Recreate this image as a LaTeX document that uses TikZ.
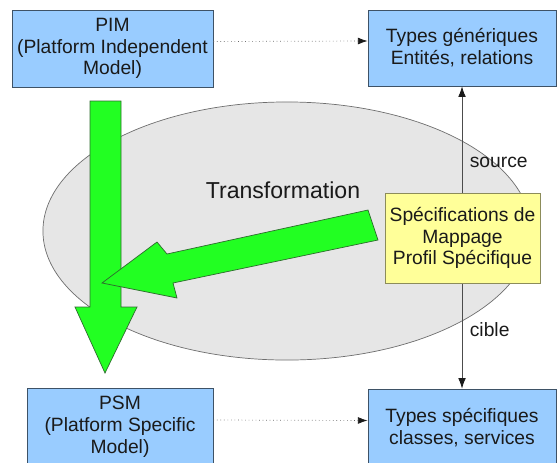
\documentclass[tikz,border=0pt]{standalone}
\usepackage{fontspec}
\setmainfont{Liberation Sans}
\usetikzlibrary{arrows.meta,positioning,shapes.geometric}
\definecolor{boxblue}{HTML}{99CCFF}
\definecolor{boxedge}{HTML}{3E5266}
\definecolor{paleyellow}{HTML}{FFFF99}
\definecolor{yellowedge}{HTML}{8C8C5A}
\definecolor{brightgreen}{HTML}{22FF22}
\definecolor{greenedge}{HTML}{2E6B2E}
\definecolor{cloud}{HTML}{E6E6E6}
\definecolor{cloudedge}{HTML}{6E6E6E}
\definecolor{ink}{HTML}{1A1A1A}
\tikzset{every node/.style={font=\fontsize{13.7}{15.5}\selectfont,text=ink},
 model/.style={draw=boxedge,fill=boxblue,line width=.6pt,align=center,inner sep=2pt},
 mapping/.style={draw=yellowedge,fill=paleyellow,line width=.6pt,align=center,inner sep=2pt,
  minimum width=3.875cm,minimum height=2.25cm},
 bigarrow/.style={draw=greenedge,fill=brightgreen,line width=.5pt,line join=miter},
 dotlink/.style={-{Latex[length=2.4mm,width=1.7mm,color=ink]},draw=gray!80!black,dotted,line width=.5pt},
 rolelink/.style={{Latex[length=2.6mm,width=1.9mm,color=ink]}-{Latex[length=2.6mm,width=1.9mm,color=ink]},draw=gray!60!black,line width=.5pt}}

\begin{document}
\begin{tikzpicture}[x=0.025cm,y=-0.025cm]

\useasboundingbox (0,0) rectangle (558,462);
\node[ellipse,draw=cloudedge,fill=cloud,line width=.5pt,minimum width=12.2cm,minimum height=6.45cm] (cloud) at (287,231) {};
\node[font=\fontsize{16.4}{18}\selectfont] (transf) at (283,190) {Transformation};
\node[model,minimum width=5.025cm,minimum height=1.925cm] (PIM) at (112.5,48.5) {PIM\\(Platform Independent\\Model)};
\node[model,minimum width=4.7cm,minimum height=1.9cm] (TG) at (462,48) {Types génériques\\Entités, relations};
\node[model,minimum width=4.65cm,minimum height=1.95cm] (PSM) at (120,427) {PSM\\(Platform Specific\\Model)};
\node[model,minimum width=4.7cm,minimum height=1.925cm] (TS) at (462,427.5) {Types spécifiques\\classes, services};
\draw[dotlink] ([yshift=.175cm]PIM.east) -- ([yshift=.175cm]TG.west);
\draw[dotlink] ([yshift=.175cm]PSM.east) -- ([yshift=.175cm]TS.west);
\draw[rolelink] (TG.south) -- node[pos=.25,anchor=west,xshift=2pt] (src) {source}
 node[pos=.805,anchor=west,xshift=2pt] (tgt) {cible} (TS.north);
\node[mapping] (map) at (462.5,238) {Spécifications de\\Mappage\\Profil Spécifique};
\draw[bigarrow] (90,101) -- (121,101) -- (121,307) -- (137,307) -- (105,373) -- (75,307) -- (90,307) -- cycle;
\draw[bigarrow] (368,210) -- (167,254) -- (157,242) -- (102,283) -- (177,298) -- (173,283) -- (378,240) -- cycle;

\end{tikzpicture}
\end{document}
